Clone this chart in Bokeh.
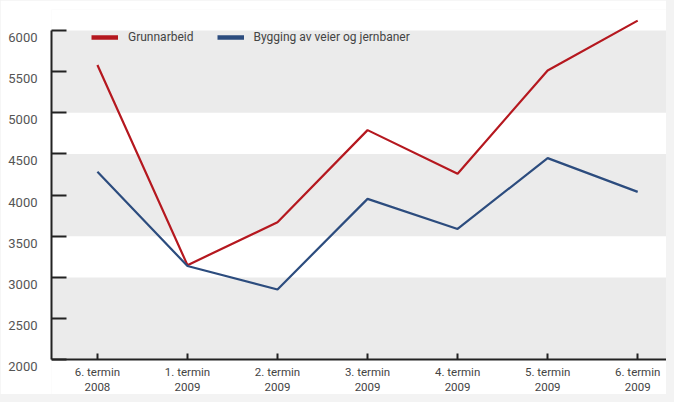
import math
from bokeh.plotting import figure
from bokeh.models import (Range1d, FixedTicker, BoxAnnotation, Legend, LegendItem, LinearAxis,
                          CustomLabelingPolicy)
from bokeh.embed import file_html
from bokeh.resources import INLINE

categories = ["6. termin\n2008", "1. termin\n2009", "2. termin\n2009", "3. termin\n2009",
              "4. termin\n2009", "5. termin\n2009", "6. termin\n2009"]
grunnarbeid = [5580, 3150, 3670, 4790, 4260, 5515, 6120]
bygging = [4285, 3140, 2855, 3955, 3590, 4450, 4040]
series_names = ["Grunnarbeid", "Bygging av veier og jernbaner"]
y_ticks = [2000, 2500, 3000, 3500, 4000, 4500, 5000, 5500, 6000]
bands = [(2000, 3000), (3500, 4500), (5000, 6000)]

FONT = "Roboto"
RED = "#b5181f"
BLUE = "#2c4c7e"

x = list(range(len(categories)))
Y0, Y1 = 1579, 6255
LABEL_SHIFT = 85

p = figure(width=666, height=394, x_range=Range1d(-0.51, 6.32), y_range=Range1d(Y0, Y1),
           output_backend="svg", toolbar_location=None, x_axis_location=None, y_axis_location=None,
           min_border_left=51, min_border_right=0, min_border_top=9, min_border_bottom=0)
p.outline_line_color = None
p.background_fill_color = "white"
p.border_fill_color = "white"
p.xgrid.visible = False
p.ygrid.visible = False

for lo, hi in bands:
    p.add_layout(BoxAnnotation(bottom=lo, top=hi, fill_color="#ebebeb", fill_alpha=1,
                               line_color=None, level="underlay"))

r1 = p.line(x, grunnarbeid, line_color=RED, line_width=2.2)
r2 = p.line(x, bygging, line_color=BLUE, line_width=2.2)

# legend sample glyphs (thicker)
nan2 = [math.nan, math.nan]
l1 = p.line(x[:2], nan2, line_color=RED, line_width=4.5)
l2 = p.line(x[:2], nan2, line_color=BLUE, line_width=4.5)

# y axis: line + ticks, labels hidden
hide_all = CustomLabelingPolicy(code="for (let i = 0; i < indices.size; i++) { indices.unset(i) }\nreturn indices")
ya = LinearAxis(ticker=FixedTicker(ticks=y_ticks), bounds=(2000, 6000))
ya.major_tick_in = 15
ya.major_tick_out = 0
ya.minor_tick_line_color = None
ya.axis_line_width = 2
ya.axis_line_color = "#222222"
ya.major_tick_line_width = 2
ya.major_tick_line_color = "#222222"
ya.major_label_text_font_size = "1px"
ya.major_label_standoff = 0
ya.major_label_policy = hide_all
p.add_layout(ya, "left")

# y labels: slightly below their ticks (as in the original)
p.extra_y_ranges = {"lab": Range1d(Y0 + LABEL_SHIFT, Y1 + LABEL_SHIFT)}
yl = LinearAxis(y_range_name="lab", ticker=FixedTicker(ticks=y_ticks))
yl.axis_line_color = None
yl.major_tick_line_color = None
yl.minor_tick_line_color = None
yl.major_tick_in = 0
yl.major_tick_out = 0
yl.major_label_standoff = 9
yl.major_label_text_font = FONT
yl.major_label_text_font_size = "13px"
yl.major_label_text_color = "#555555"
p.add_layout(yl, "left")

# x axis, fixed at 2000
xa = LinearAxis(ticker=FixedTicker(ticks=x), fixed_location=2000)
xa.major_label_overrides = {i: c for i, c in zip(x, categories)}
xa.major_tick_in = 6
xa.major_tick_out = 0
xa.minor_tick_line_color = None
xa.axis_line_width = 2
xa.axis_line_color = "#222222"
xa.major_tick_line_width = 2
xa.major_tick_line_color = "#222222"
xa.major_label_standoff = 5
xa.major_label_text_font = FONT
xa.major_label_text_font_size = "11.5px"
xa.major_label_text_color = "#444444"
xa.major_label_text_line_height = 1.05
p.add_layout(xa, "below")

legend = Legend(items=[LegendItem(label=series_names[0], renderers=[l1]),
                       LegendItem(label=series_names[1], renderers=[l2])],
                location=(40, 350), orientation="horizontal",
                padding=0, margin=0, spacing=23, glyph_width=27, glyph_height=14,
                label_height=14, label_standoff=10,
                label_text_font=FONT, label_text_font_size="12px",
                label_text_color="#444444",
                border_line_alpha=0, background_fill_alpha=0)
p.add_layout(legend)

html = file_html(p, INLINE)
html = html.replace("<body>", '<body style="background:#f3f3f3">')
open("out.html", "w").write(html)
